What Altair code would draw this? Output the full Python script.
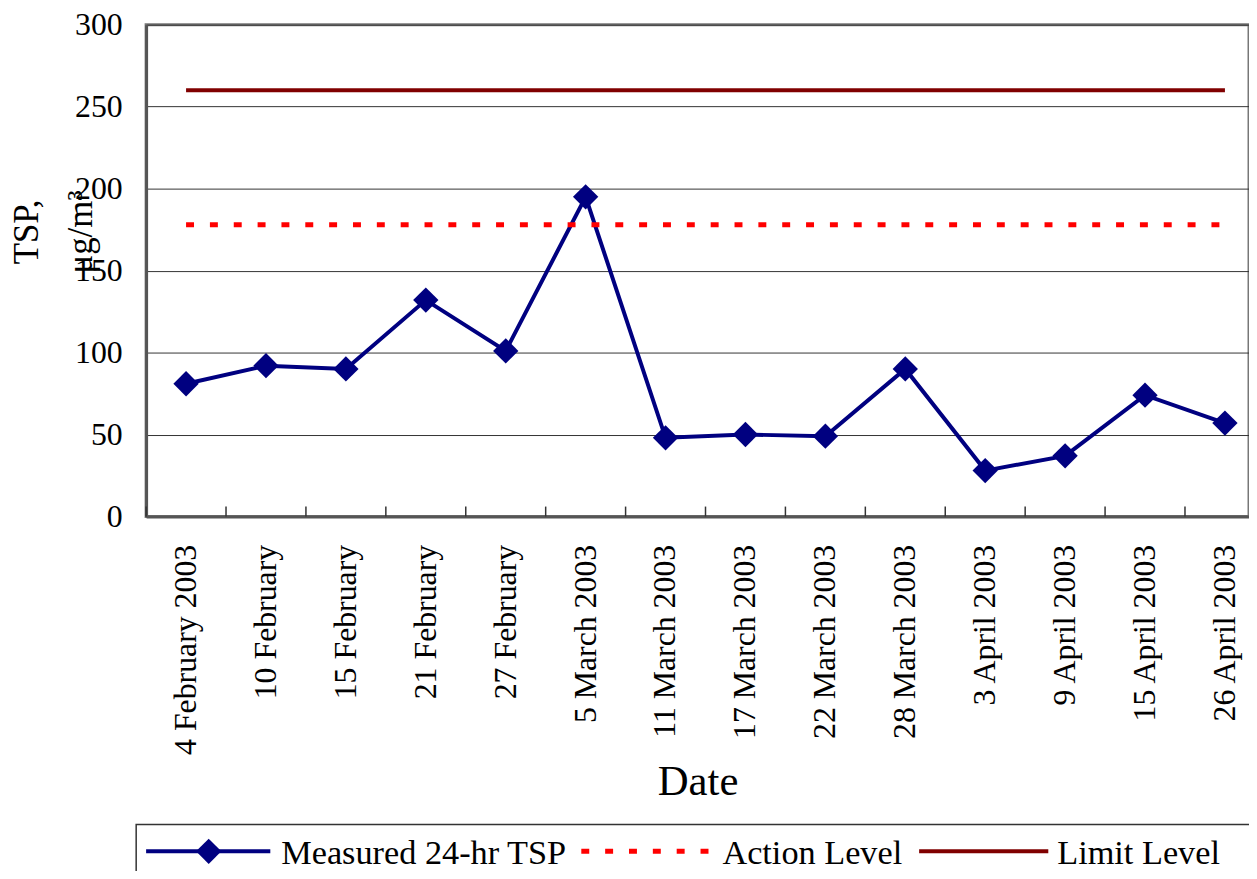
import altair as alt
import pandas as pd

# ---- data ----
dates = ["4 February 2003", "10 February", "15 February", "21 February", "27 February",
         "5 March 2003", "11 March 2003", "17 March 2003", "22 March 2003", "28 March 2003",
         "3 April 2003", "9 April 2003", "15 April 2003", "26 April 2003"]
tsp = [81, 92, 90, 132, 101, 195, 48, 50, 49, 90, 28, 37, 74, 57]
action_level = 178
limit_level = 260
y_ticks = [0, 50, 100, 150, 200, 250, 300]
series_names = ["Measured 24-hr TSP", "Action Level", "Limit Level"]
series_colors = ["#000080", "#FF0000", "#800000"]

FONT = "Liberation Serif"

measured = pd.DataFrame({"date": dates, "tsp": tsp})
levels = pd.DataFrame({
    "date": dates * 2,
    "level": [series_names[1]] * len(dates) + [series_names[2]] * len(dates),
    "value": [action_level] * len(dates) + [limit_level] * len(dates),
})

x_scale = alt.Scale(domain=dates, range=[0, 1126], paddingInner=0, paddingOuter=0)
y_scale = alt.Scale(domain=[0, 300], nice=False)

x_axis = alt.Axis(
    title="Date", labelAngle=-90, labelFont=FONT, labelFontSize=32, labelColor="black",
    labelPadding=28, labelLimit=400, labelOverlap=False, ticks=False,
    domainColor="#555", domainWidth=3, grid=False,
    titleFont=FONT, titleFontSize=43, titleFontWeight="normal", titleColor="black",
    titleX=555, titleY=280, titleBaseline="alphabetic", titleAlign="center",
)
y_axis = alt.Axis(
    values=y_ticks, title=["TSP,", "μg/m³"], titleAngle=-90, titleFont=FONT,
    titleFontSize=35, titleFontWeight="normal", titleColor="black", titleLineHeight=54,
    titleX=-109, titleY=208, titleAlign="center", titleBaseline="alphabetic",
    labelFont=FONT, labelFontSize=32, labelColor="black", labelPadding=24, ticks=False,
    grid=True, gridColor="#333", gridWidth=1, domainColor="#555", domainWidth=3,
)

X = alt.X("date:N", scale=x_scale, axis=x_axis, sort=dates)

limit_line = alt.Chart(levels).transform_filter(
    alt.datum.level == series_names[2]
).mark_line(color=series_colors[2], strokeWidth=4).encode(
    x=X, y=alt.Y("value:Q", scale=y_scale, axis=y_axis)
)

measured_line = alt.Chart(measured).mark_line(color=series_colors[0], strokeWidth=4).encode(
    x=X, y=alt.Y("tsp:Q", scale=y_scale, axis=y_axis)
)

action_line = alt.Chart(levels).transform_filter(
    alt.datum.level == series_names[1]
).mark_line(color=series_colors[1], strokeWidth=5, strokeDash=[8, 16]).encode(
    x=X, y=alt.Y("value:Q", scale=y_scale, axis=y_axis)
)

measured_pts = alt.Chart(measured).mark_point(
    shape="diamond", filled=True, size=650, color=series_colors[0], opacity=1
).encode(x=X, y=alt.Y("tsp:Q", scale=y_scale, axis=y_axis))

# inward tick marks between categories on the x axis
x_ticks = alt.Chart(measured).mark_rule(color="#333", strokeWidth=1.5).encode(
    x=alt.X("date:N", scale=x_scale, axis=x_axis, sort=dates, bandPosition=0),
    y=alt.value(485), y2=alt.value(495),
)

# ---- legend ----
one = pd.DataFrame({"k": [0]})
legend_box = alt.Chart(one).mark_rect(fill="white", stroke="#333", strokeWidth=1.5).encode(
    x=alt.value(-10), x2=alt.value(1300), y=alt.value(805), y2=alt.value(950)
)
leg_line1 = alt.Chart(one).mark_rule(color=series_colors[0], strokeWidth=4).encode(
    x=alt.value(0), x2=alt.value(125), y=alt.value(832)
)
leg_pt1 = alt.Chart(one).mark_point(shape="diamond", filled=True, size=650,
                                    color=series_colors[0], opacity=1).encode(
    x=alt.value(63), y=alt.value(832)
)
leg_line2 = alt.Chart(one).mark_rule(color=series_colors[1], strokeWidth=5,
                                     strokeDash=[8, 16]).encode(
    x=alt.value(438), x2=alt.value(573), y=alt.value(832)
)
leg_line3 = alt.Chart(one).mark_rule(color=series_colors[2], strokeWidth=4).encode(
    x=alt.value(778), x2=alt.value(908), y=alt.value(832)
)


def leg_text(name, xpos):
    return alt.Chart(pd.DataFrame({"label": [name]})).mark_text(
        align="left", baseline="alphabetic", font=FONT, fontSize=34.5, color="black"
    ).encode(x=alt.value(xpos), y=alt.value(845), text="label:N")


chart = alt.layer(
    limit_line, measured_line, action_line, measured_pts, x_ticks,
    legend_box, leg_line1, leg_pt1, leg_line2, leg_line3,
    leg_text(series_names[0], 136), leg_text(series_names[1], 580), leg_text(series_names[2], 917),
).properties(
    width=1110, height=495,
    autosize=alt.AutoSizeParams(type="none"),
    padding={"left": 139, "top": 14, "right": 0, "bottom": 354},
    background="white",
).configure_view(stroke="#777", strokeWidth=3)

chart.save("out.html", embed_options={"renderer": "svg", "actions": False})
